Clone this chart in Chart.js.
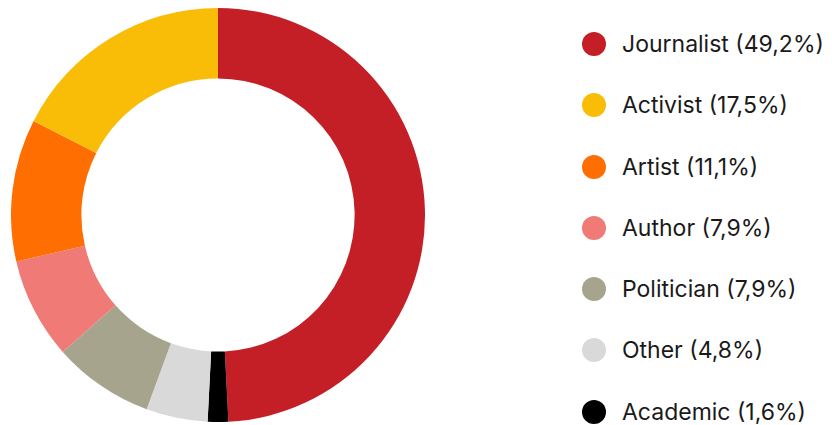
<!DOCTYPE html>
<html>
<head>
<meta charset="utf-8">
<script src="https://cdn.jsdelivr.net/npm/chart.js@4"></script>
<style>
  html,body{margin:0;padding:0;background:#fff;width:832px;height:425px;overflow:hidden}
  #wrap{position:absolute;left:11px;top:8px;width:414px;height:414px}
  #lgd{position:absolute;left:582px;top:32px;margin:0;padding:0;list-style:none;
    font-family:Inter,"Open Sans",sans-serif;font-size:23px;color:#1a1a1a}
  #lgd li{height:24px;line-height:24px;margin-bottom:37.3px;white-space:nowrap}
  #lgd .dot{display:inline-block;width:24px;height:24px;border-radius:50%;vertical-align:top;margin-right:16px}
</style>
</head>
<body>
<div id="wrap"><canvas id="c"></canvas></div>
<ul id="lgd"></ul>
<script>
// legend order
const labels=['Journalist','Activist','Artist','Author','Politician','Other','Academic'];
const pctText=['49,2%','17,5%','11,1%','7,9%','7,9%','4,8%','1,6%'];
const values=[49.2,17.5,11.1,7.9,7.9,4.8,1.6];
const colors=['#c41f27','#f9bd08','#ff6e00','#f07a75','#a7a48e','#d9d9d9','#000000'];

// ring goes clockwise: Journalist first, then the rest in reverse legend order
const drawIdx=[0,6,5,4,3,2,1];

new Chart(document.getElementById('c'),{
  type:'doughnut',
  data:{
    labels:drawIdx.map(i=>labels[i]),
    datasets:[{
      data:drawIdx.map(i=>values[i]),
      backgroundColor:drawIdx.map(i=>colors[i]),
      borderWidth:0
    }]
  },
  options:{
    responsive:true,maintainAspectRatio:false,animation:false,
    cutout:'66%',
    plugins:{legend:{display:false},tooltip:{enabled:false}}
  }
});

// html legend
document.getElementById('lgd').innerHTML=labels.map((l,i)=>
  `<li><span class="dot" style="background:${colors[i]}"></span>${l} (${pctText[i]})</li>`).join('');
</script>
</body>
</html>
